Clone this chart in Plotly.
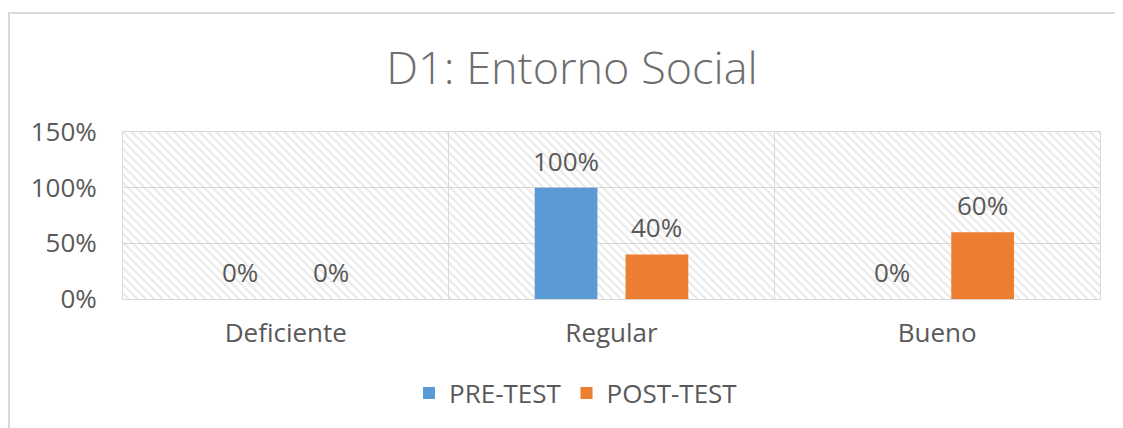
import plotly.graph_objects as go

categories = ["Deficiente", "Regular", "Bueno"]
pre_test = [0.0, 1.0, 0.0]
post_test = [0.0, 0.4, 0.6]
series_names = ["PRE-TEST", "POST-TEST"]
series_colors = ["#5B9BD5", "#ED7D31"]
y_ticks = [0, 0.5, 1.0, 1.5]
y_tick_labels = ["0%", "50%", "100%", "150%"]
title_text = "D1: Entorno Social"

# page has an 8px body margin, so the figure is 8px smaller than the window
W, H = 1115, 420
L, R, T, B = 115, 23, 124, 129
TXT = "#595959"
GRID = "#D9D9D9"
FONT = "Open Sans"
BARGAP, GROUPGAP = 0.442, 0.31

fig = go.Figure()

# hatched plot-area background on hidden numeric axis
fig.add_trace(go.Bar(
    x=[len(categories) / 2], y=[y_ticks[-1]], width=[len(categories)],
    xaxis="x", yaxis="y", showlegend=False, hoverinfo="skip",
    marker=dict(color="rgba(0,0,0,0)", line=dict(width=0),
                pattern=dict(shape="\\", fgcolor="#D2D2D2", bgcolor="rgba(0,0,0,0)",
                             size=6, solidity=0.35)),
))

series = [pre_test, post_test]
for name, vals, col in zip(series_names, series, series_colors):
    fig.add_trace(go.Bar(
        x=categories, y=vals, name=name, xaxis="x2", yaxis="y",
        marker=dict(color=col, line=dict(width=0)),
        hoverinfo="x+y",
    ))

plot_w = W - L - R
cat_px = plot_w / len(categories)
slot_px = (1 - BARGAP) / len(series) * cat_px
annotations = []
for i, vals in enumerate(series):
    for c, v in zip(categories, vals):
        annotations.append(dict(
            x=c, y=v, xref="x2", yref="y", text=f"{v:.0%}", showarrow=False,
            xanchor="center", yanchor="middle",
            xshift=(i - (len(series) - 1) / 2) * slot_px, yshift=27,
            font=dict(family=FONT, size=26, color=TXT),
        ))

px_x = lambda p: (p - 8 - L) / plot_w
px_y = lambda p: (H - B - (p - 8)) / (H - T - B)

fig.update_layout(
    width=W, height=H,
    margin=dict(l=L, r=R, t=T, b=B, autoexpand=False),
    paper_bgcolor="white", plot_bgcolor="white",
    font=dict(family=FONT, size=26, color=TXT),
    title=dict(text=title_text, x=564 / W, xref="container", xanchor="center",
               y=1 - 60 / H, yref="container", yanchor="middle",
               font=dict(family=FONT, size=45, color="#6e6e6e", weight=300)),
    barmode="group", bargap=BARGAP, bargroupgap=GROUPGAP,
    showlegend=True,
    legend=dict(orientation="h", x=px_x(576), xanchor="center",
                y=px_y(393), yanchor="middle",
                font=dict(family=FONT, size=26, color=TXT),
                traceorder="normal"),
    xaxis=dict(range=[0, len(categories)], tickvals=list(range(1, len(categories))),
               showticklabels=False, showgrid=True, gridcolor=GRID, gridwidth=1,
               zeroline=False, showline=True, linecolor=GRID, linewidth=1, mirror=True,
               ticks=""),
    xaxis2=dict(overlaying="x", side="bottom", type="category", showgrid=False,
                zeroline=False, showline=False, ticks="", ticklabelstandoff=16,
                tickfont=dict(family=FONT, size=26, color=TXT)),
    yaxis=dict(range=[0, y_ticks[-1]], tickvals=y_ticks, ticktext=y_tick_labels,
               showgrid=True, gridcolor=GRID, gridwidth=1, zeroline=False,
               showline=True, linecolor=GRID, linewidth=1, mirror=True, ticks="",
               ticklabelstandoff=20, tickfont=dict(family=FONT, size=26, color=TXT)),
    annotations=annotations,
    shapes=[dict(type="rect", xref="paper", yref="paper",
                 x0=px_x(9), x1=px_x(1140), y0=px_y(13), y1=px_y(445),
                 line=dict(color="#D9D9D9", width=2), fillcolor="rgba(0,0,0,0)",
                 layer="below")],
)

fig.write_html("out.html")
